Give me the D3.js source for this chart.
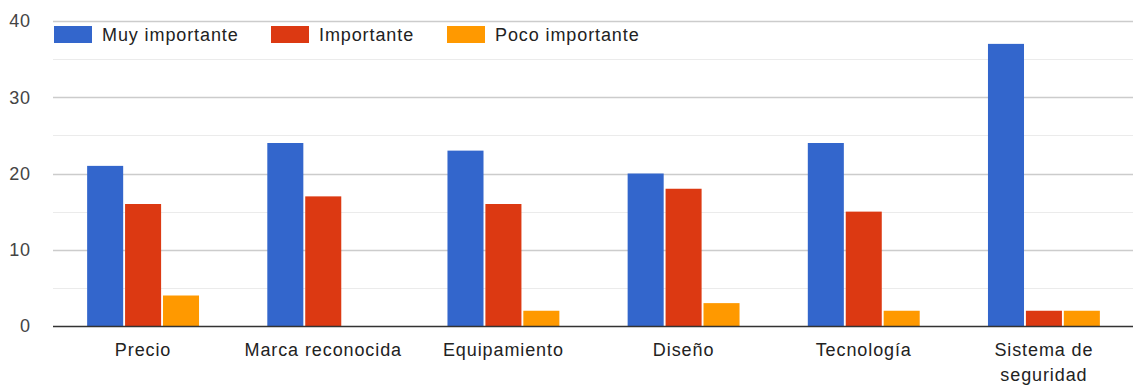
<!DOCTYPE html>
<html>
<head>
<meta charset="utf-8">
<script src="https://cdn.jsdelivr.net/npm/d3@7"></script>
<style>
  html, body { margin: 0; padding: 0; background: #fff; }
  svg { display: block; font-family: Arial, "Liberation Sans", sans-serif; }
  text { letter-spacing: 0.9px; }
</style>
</head>
<body>
<svg id="chart" width="1133" height="387"></svg>
<script>
// Aspectos considerados al elegir un vehículo
const categories = ["Precio", "Marca reconocida", "Equipamiento", "Diseño", "Tecnología", "Sistema de seguridad"];
const seriesNames = ["Muy importante", "Importante", "Poco importante"];
const muyImportante = [21, 24, 23, 20, 24, 37];
const importante = [16, 17, 16, 18, 15, 2];
const pocoImportante = [4, 0, 2, 3, 2, 2];
const yTicks = [0, 10, 20, 30, 40];
const yMinorTicks = [5, 15, 25, 35];
const colors = ["#3366cc", "#dc3912", "#ff9900"];

const series = [muyImportante, importante, pocoImportante];

const svg = d3.select("#chart");
const plot = { left: 53, right: 1134, top: 21, bottom: 326 };

const x = d3.scaleBand().domain(categories).range([plot.left, plot.right]).paddingInner(0).paddingOuter(0);
const xInner = d3.scaleBand().domain(d3.range(series.length))
  .range([0, x.bandwidth()]).paddingInner(0.05).paddingOuter(0.9);
const y = d3.scaleLinear().domain([0, 40]).range([plot.bottom, plot.top]);

// minor gridlines
svg.append("g").selectAll("line").data(yMinorTicks).join("line")
  .attr("x1", plot.left).attr("x2", plot.right)
  .attr("y1", d => Math.round(y(d)) + 0.5).attr("y2", d => Math.round(y(d)) + 0.5)
  .attr("stroke", "#ebebeb").attr("stroke-width", 1);

// major gridlines
svg.append("g").selectAll("line").data(yTicks.filter(d => d > 0)).join("line")
  .attr("x1", plot.left).attr("x2", plot.right)
  .attr("y1", d => Math.round(y(d)) + 0.5).attr("y2", d => Math.round(y(d)) + 0.5)
  .attr("stroke", "#cccccc").attr("stroke-width", 1.5);

// y axis labels
svg.append("g").selectAll("text").data(yTicks).join("text")
  .attr("x", 31).attr("y", d => y(d)).attr("dy", "0.35em")
  .attr("text-anchor", "end").attr("font-size", 18).attr("fill", "#444")
  .text(d => d);

// bars
const groups = svg.append("g").selectAll("g").data(categories).join("g")
  .attr("transform", d => `translate(${x(d)},0)`);
groups.selectAll("rect")
  .data((c, i) => series.map((s, k) => ({ k, v: s[i] })))
  .join("rect")
  .attr("x", d => xInner(d.k))
  .attr("width", xInner.bandwidth())
  .attr("y", d => y(d.v))
  .attr("height", d => y(0) - y(d.v))
  .attr("fill", d => colors[d.k]);

// baseline
svg.append("line")
  .attr("x1", plot.left).attr("x2", plot.right)
  .attr("y1", plot.bottom + 0.5).attr("y2", plot.bottom + 0.5)
  .attr("stroke", "#333").attr("stroke-width", 1.5);

// x axis labels (wrapped when too long)
const xl = svg.append("g").selectAll("text").data(categories).join("text")
  .attr("x", d => x(d) + x.bandwidth() / 2)
  .attr("y", 356)
  .attr("text-anchor", "middle").attr("font-size", 18).attr("fill", "#222");
xl.each(function(d) {
  const t = d3.select(this);
  const lines = d === "Sistema de seguridad" ? ["Sistema de", "seguridad"] : [d];
  lines.forEach((ln, i) => {
    t.append("tspan").attr("x", x(d) + x.bandwidth() / 2).attr("dy", i === 0 ? 0 : 25).text(ln);
  });
});

// legend
const legendX = [54, 271, 447];
const lg = svg.append("g").selectAll("g").data(seriesNames).join("g")
  .attr("transform", (d, i) => `translate(${legendX[i]},26)`);
lg.append("rect").attr("width", 38).attr("height", 17).attr("fill", (d, i) => colors[i]);
lg.append("text").attr("x", 48).attr("y", 8.5).attr("dy", "0.35em")
  .attr("font-size", 18).attr("fill", "#222").text(d => d);
</script>
</body>
</html>
